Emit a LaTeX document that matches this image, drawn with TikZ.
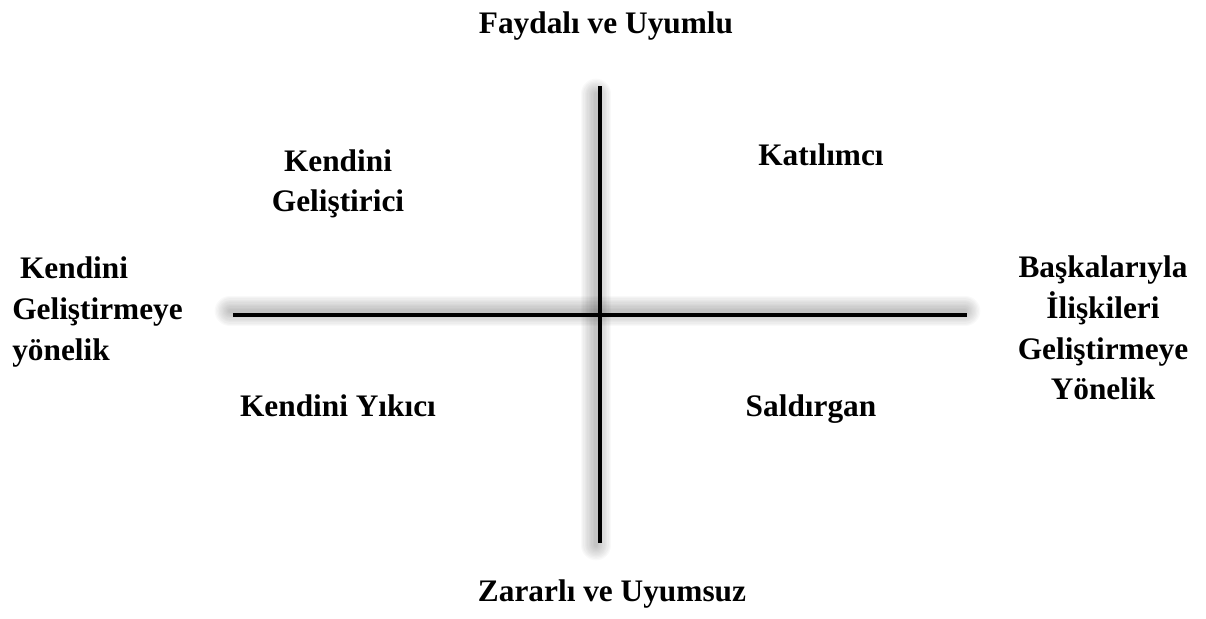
\documentclass[tikz,border=0pt]{standalone}
\usepackage{fontspec}
\setmainfont{Liberation Serif}
\usetikzlibrary{positioning}
\tikzset{
    % Axes
    axis line/.style={black,line width=2.8pt},
    shadow line/.style={black,opacity=0.022,line cap=round},
    %
    % Labels
    label text/.style={font=\fontsize{23.5}{30.5}\selectfont\bfseries,inner sep=0pt},
    pole/.style={label text,align=center},
    quadrant/.style={label text,align=center}
}

\begin{document}
\begin{tikzpicture}[x=0.75pt,y=-0.75pt]
    \useasboundingbox (0,0) rectangle (1206,618);
    % axis end points
    \coordinate (v top) at (600,86);
    \coordinate (v bottom) at (600,543);
    \coordinate (h left) at (233,315);
    \coordinate (h right) at (967,315);
    % soft shadows behind the axes
    \foreach \w in {3,5,...,23} {
        \draw[shadow line,line width=\w pt] ([shift={(-3,-4)}]h left) -- ([shift={(-2,-4)}]h right);
        \draw[shadow line,line width=\w pt] ([shift={(-4,8)}]v top) -- ([shift={(-4,2)}]v bottom);
    }
    \draw[axis line] (h left) -- (h right);
    \draw[axis line] (v top) -- (v bottom);
    % poles
    \node[pole] (useful) at (606,26) {Faydalı ve Uyumlu};
    \node[pole] (harmful) at (612,594) {Zararlı ve Uyumsuz};
    \node[label text,align=left,anchor=west] (self) at (12,312) {\hspace*{.25em}Kendini\\Geliştirmeye\\yönelik};
    \node[pole] (others) at (1103,328) {Başkalarıyla\\İlişkileri\\Geliştirmeye\\Yönelik};
    % quadrants
    \node[quadrant] (develop) at (338,184) {Kendini\\Geliştirici};
    \node[quadrant] (join) at (821,155) {Katılımcı};
    \node[quadrant] (destroy) at (338,406) {Kendini Yıkıcı};
    \node[quadrant] (attack) at (811,409) {Saldırgan};
\end{tikzpicture}
\end{document}
